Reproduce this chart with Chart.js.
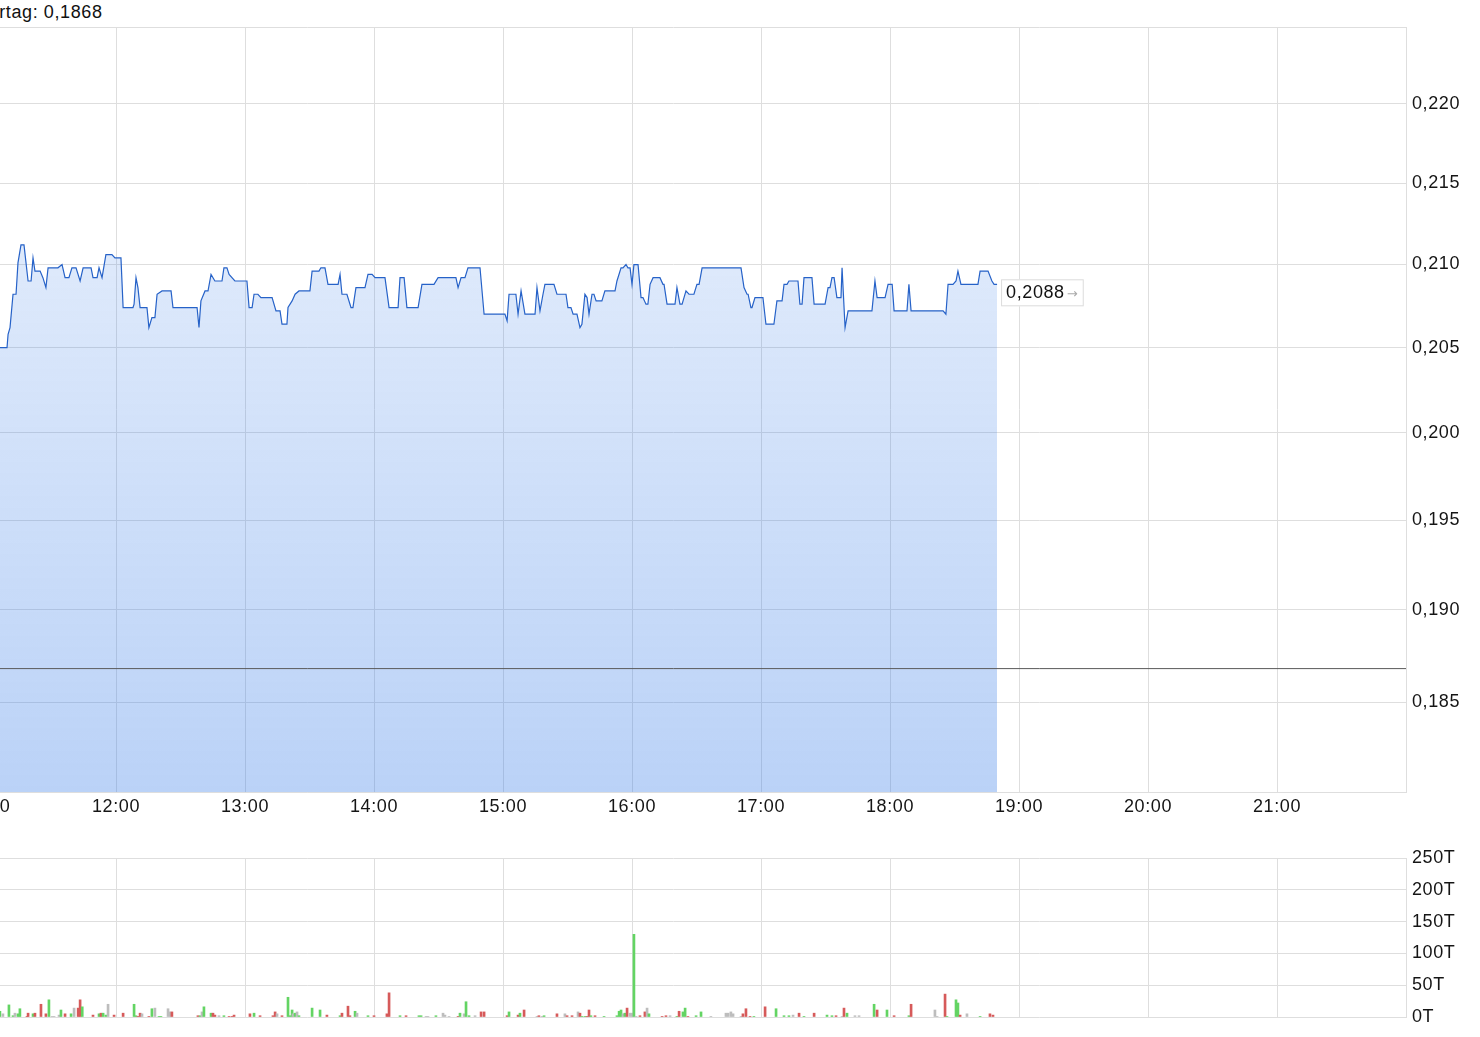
<!DOCTYPE html>
<html>
<head>
<meta charset="utf-8">
<script src="https://cdn.jsdelivr.net/npm/chart.js@4.4.1/dist/chart.umd.min.js"></script>
<style>
  body{margin:0;background:#fff;width:1480px;height:1037px;overflow:hidden;position:relative;font-family:"Liberation Sans",Arial,sans-serif;}
  #vortag{position:absolute;left:-23px;top:2px;font-size:18px;letter-spacing:0.6px;color:#111;white-space:nowrap;}
  #priceBox{position:absolute;left:-59px;top:0;width:1539px;height:831px;}
  #volBox{position:absolute;left:-59px;top:840px;width:1539px;height:197px;}
</style>
</head>
<body>
<div id="vortag">Vortag: 0,1868</div>
<div id="priceBox"><canvas id="priceChart"></canvas></div>
<div id="volBox"><canvas id="volChart"></canvas></div>
<script>
// time = minutes after midnight
const priceTimes = [665.0,669.3,669.8,670.7,672.1,673.5,674.4,675.8,677.2,679.1,680.5,681.4,682.3,684.7,686.0,687.4,688.4,693.0,694.9,696.3,698.1,
  699.5,701.4,703.3,704.7,708.4,709.3,711.2,712.1,713.5,715.3,718.1,719.5,722.3,723.3,727.9,728.4,729.3,730.2,731.2,734.4,
  735.3,736.7,738.1,739.1,741.4,745.6,746.5,757.7,758.6,759.5,761.4,762.8,764.2,766.0,769.3,770.2,771.6,772.6,775.3,780.9,
  781.9,783.3,784.2,786.0,787.4,792.6,794.4,796.3,797.2,799.5,800.0,801.9,803.3,805.1,810.2,811.2,814.4,815.3,817.2,818.6,
  823.3,824.2,825.1,827.4,829.3,830.2,831.6,835.8,837.2,839.1,840.5,845.1,847.0,851.2,852.1,854.0,855.3,860.5,862.3,867.9,
  869.8,878.1,879.1,880.5,882.3,883.7,889.3,891.2,900.9,901.9,902.8,906.0,907.0,908.4,908.8,910.2,914.9,915.8,917.2,918.6,
  919.5,923.7,925.1,929.3,930.2,931.6,932.6,934.4,935.8,936.7,938.1,939.1,940.0,941.4,942.3,943.3,946.0,947.4,952.1,953.0,
  954.9,955.8,957.2,958.1,959.1,960.0,960.9,962.8,964.2,965.1,966.5,967.4,968.4,969.8,973.0,974.4,974.9,976.3,980.0,980.9,
  982.3,983.3,985.1,986.5,988.8,990.2,991.2,992.6,1010.7,1012.1,1013.5,1014.0,1015.3,1015.8,1017.2,1020.9,1022.3,1026.0,1027.4,1029.8,
  1030.7,1032.1,1033.0,1037.2,1038.1,1039.1,1040.0,1043.7,1044.7,1049.8,1051.2,1052.1,1053.0,1054.0,1055.3,1057.2,1057.7,1059.1,1060.5,1071.6,
  1073.0,1074.0,1077.7,1079.1,1081.0,1081.9,1087.9,1088.8,1089.8,1104.7,1106.0,1107.0,1109.3,1110.7,1111.6,1113.0,1120.9,1121.9,1125.6,1127.4,
  1128.4,1129.8];
const priceValues = [0.2050,0.2050,0.2058,0.2062,0.2082,0.2082,0.2101,0.2112,0.2112,0.2090,0.2090,0.2104,0.2096,0.2096,0.2092,0.2086,0.2098,0.2098,0.2100,0.2092,0.2092,
  0.2098,0.2098,0.2090,0.2098,0.2098,0.2092,0.2092,0.2098,0.2092,0.2106,0.2106,0.2104,0.2104,0.2074,0.2074,0.2076,0.2092,0.2086,0.2074,0.2074,
  0.2062,0.2068,0.2068,0.2082,0.2084,0.2084,0.2074,0.2074,0.2062,0.2078,0.2084,0.2084,0.2094,0.2090,0.2090,0.2098,0.2098,0.2094,0.2090,0.2090,
  0.2074,0.2074,0.2082,0.2082,0.2080,0.2080,0.2072,0.2072,0.2064,0.2064,0.2074,0.2078,0.2082,0.2084,0.2084,0.2096,0.2096,0.2098,0.2098,0.2088,
  0.2088,0.2094,0.2082,0.2082,0.2074,0.2074,0.2086,0.2086,0.2094,0.2094,0.2092,0.2092,0.2074,0.2074,0.2092,0.2092,0.2074,0.2074,0.2088,0.2088,
  0.2092,0.2092,0.2086,0.2092,0.2092,0.2098,0.2098,0.2070,0.2070,0.2066,0.2082,0.2082,0.2070,0.2084,0.2084,0.2070,0.2070,0.2086,0.2072,0.2082,
  0.2088,0.2088,0.2082,0.2082,0.2074,0.2074,0.2070,0.2070,0.2062,0.2064,0.2082,0.2080,0.2070,0.2082,0.2082,0.2078,0.2078,0.2084,0.2084,0.2090,
  0.2098,0.2098,0.2100,0.2098,0.2098,0.2088,0.2100,0.2100,0.2080,0.2080,0.2076,0.2076,0.2088,0.2092,0.2092,0.2088,0.2088,0.2076,0.2076,0.2086,
  0.2076,0.2076,0.2084,0.2082,0.2082,0.2088,0.2088,0.2098,0.2098,0.2086,0.2082,0.2082,0.2074,0.2074,0.2080,0.2080,0.2064,0.2064,0.2078,0.2078,
  0.2088,0.2088,0.2090,0.2090,0.2076,0.2076,0.2092,0.2092,0.2076,0.2076,0.2086,0.2086,0.2092,0.2092,0.2080,0.2080,0.2098,0.2062,0.2072,0.2072,
  0.2090,0.2080,0.2080,0.2088,0.2088,0.2072,0.2072,0.2088,0.2072,0.2072,0.2070,0.2088,0.2088,0.2090,0.2096,0.2088,0.2088,0.2096,0.2096,0.2090,
  0.2088,0.2088];
const prevClose = 0.1868;
const priceTicks = [0.185,0.190,0.195,0.200,0.205,0.210,0.215,0.220];
const hourTicks = [660,720,780,840,900,960,1020,1080,1140,1200,1260];

// volume bars (in T), direction: u = up, d = down, n = unchanged
const volTimes = [666.0,667.4,670.2,672.1,673.0,674.4,675.3,678.6,679.1,681.4,682.3,685.1,687.4,688.8,690.2,691.2,693.5,694.4,696.3,699.1,
  700.5,702.4,703.3,704.3,709.3,712.1,713.0,714.0,715.3,716.3,719.1,723.3,728.4,729.3,730.2,731.2,732.1,735.3,736.7,738.1,
  740.0,740.9,744.2,745.1,746.0,758.1,759.1,760.0,760.9,764.2,765.1,766.0,767.9,770.2,772.6,774.0,774.9,782.3,784.2,787.0,
  793.0,794.0,794.9,797.2,800.0,800.9,801.9,802.3,803.3,804.2,805.1,811.2,814.9,818.1,824.2,825.1,827.9,828.8,831.2,832.1,
  837.2,840.0,846.0,847.0,852.1,854.9,860.9,861.9,864.2,865.1,868.8,872.1,873.0,874.9,879.1,880.0,881.9,882.8,884.2,887.0,
  889.8,891.2,901.9,902.8,907.0,907.9,909.8,915.8,916.7,918.1,919.1,925.1,928.8,929.8,932.1,934.9,935.8,936.7,938.1,939.1,
  940.0,940.9,942.8,947.0,953.0,954.0,954.9,955.8,956.7,957.7,959.1,960.0,960.9,961.9,963.7,966.0,967.0,967.9,974.0,975.8,
  977.7,980.9,981.9,983.7,984.7,986.0,989.8,992.1,996.7,1003.7,1004.7,1006.0,1007.0,1010.7,1011.6,1013.0,1014.9,1016.7,1021.9,1027.0,
  1030.7,1033.0,1034.9,1037.7,1040.0,1044.7,1050.7,1053.0,1054.9,1057.7,1058.6,1060.0,1063.7,1065.6,1072.6,1074.0,1078.6,1081.9,1088.8,1089.8,
  1100.9,1101.9,1105.6,1106.5,1110.7,1111.6,1112.6,1115.8,1121.9,1126.5,1127.9];
const volValues = [9,5,19,2,6,5,13,1,6,5,6,20,5,27,1,1,3,11,5,5,
  14,14,27,16,3,5,6,6,3,20,3,6,20,2,1,6,5,1,13,14,
  1,1,13,8,8,2,2,8,16,6,6,3,2,2,1,1,3,5,6,2,
  2,8,5,2,31,2,11,5,6,8,2,14,11,3,2,6,17,2,9,6,
  2,2,5,38,2,2,2,2,1,1,2,6,3,1,1,6,5,24,2,2,
  8,8,2,8,3,6,11,1,2,1,2,5,5,2,2,8,6,1,1,1,
  11,2,2,1,2,9,11,5,6,14,6,6,130,1,2,8,14,5,1,2,
  2,1,9,8,14,1,2,8,1,6,6,8,5,1,5,13,1,1,16,13,
  2,2,3,6,1,6,3,2,2,1,14,6,2,2,20,11,11,2,2,20,
  11,1,36,1,27,22,3,5,1,5,3];
const volDir = ['u','n','u','u','n','u','u','d','d','u','d','d','d','u','n','n','n','u','d','u',
  'n','d','d','u','d','u','d','u','u','n','d','d','u','u','d','d','n','d','u','n',
  'u','u','n','n','d','d','u','n','u','u','d','d','n','u','d','d','d','d','u','d',
  'd','d','n','d','u','u','u','n','u','n','u','u','u','d','u','d','d','d','u','n',
  'u','d','d','d','u','d','u','u','n','n','u','n','n','n','d','u','n','u','u','n',
  'd','d','d','u','d','u','d','n','d','n','u','d','n','d','d','n','d','u','u','d',
  'd','u','d','u','u','u','u','n','u','d','n','n','u','n','d','d','n','u','d','d',
  'n','u','d','u','u','d','u','u','n','n','n','n','n','n','d','d','d','u','d','u',
  'u','u','n','d','u','d','u','u','d','n','d','u','n','n','u','d','u','d','u','d',
  'n','n','d','u','u','u','d','n','u','d','d'];
const volTicks = [0,50,100,150,200,250];

const dirColor = {u: '#63d463', d: '#d65a5a', n: '#bdbdbd'};
const xMin = 638.6, xMax = 1320;
const yMin = 0.18024, yMax = 0.22496;

const fmtHour = v => String(Math.round(v/60)).padStart(2,'0') + ':00';
const fmtNum = (v, d) => v.toFixed(d).replace('.', ',');

Chart.defaults.font.family = '"Liberation Sans", Arial, sans-serif';
Chart.defaults.font.size = 18;
Chart.defaults.color = '#151515';
Chart.defaults.animation = false;

// the original text is a little wider than plain Arial
const spacing = {
  id: 'spacing',
  beforeDraw(chart){ chart.ctx.letterSpacing = '0.6px'; }
};

// white box with the last price next to the end of the line
const lastLabel = {
  id: 'lastLabel',
  afterDatasetsDraw(chart){
    const meta = chart.getDatasetMeta(0);
    const pt = meta.data[meta.data.length-1];
    const ctx = chart.ctx;
    const txt = fmtNum(priceValues[priceValues.length-1], 4);
    ctx.save();
    ctx.font = '18px "Liberation Sans", Arial, sans-serif';
    const w = ctx.measureText(txt).width;
    const x = pt.x + 4, y = pt.y - 5;
    ctx.fillStyle = '#fff';
    ctx.strokeStyle = '#dcdcdc';
    ctx.lineWidth = 1;
    ctx.fillRect(x, y, w + 24, 27);
    ctx.strokeRect(x + 0.5, y + 0.5, w + 23, 26);
    ctx.fillStyle = '#111';
    ctx.textBaseline = 'middle';
    ctx.fillText(txt, x + 5, y + 14);
    ctx.font = '13px "DejaVu Sans", sans-serif';
    ctx.fillStyle = '#aaa';
    ctx.fillText('→', x + w + 7, y + 15);
    ctx.restore();
  }
};

// Price chart
const priceCtx = document.getElementById('priceChart');
new Chart(priceCtx, {
  type: 'line',
  data: {
    datasets: [{
      data: priceTimes.map((t,i) => ({x: t, y: priceValues[i]})),
      borderColor: '#2662c8',
      borderWidth: 1.2,
      pointRadius: 0,
      tension: 0,
      fill: 'start',
      order: 1,
      backgroundColor: (c) => {
        const a = c.chart.chartArea;
        if(!a) return 'rgba(58,126,232,0.2)';
        const g = c.chart.ctx.createLinearGradient(0, a.top, 0, a.bottom);
        g.addColorStop(0, 'rgba(58,126,232,0.09)');
        g.addColorStop(1, 'rgba(58,126,232,0.35)');
        return g;
      }
    }, {
      data: [{x: xMin, y: prevClose}, {x: xMax, y: prevClose}],
      borderColor: '#5a5a5a',
      borderWidth: 1,
      pointRadius: 0,
      fill: false,
      order: 0
    }]
  },
  options: {
    responsive: true,
    maintainAspectRatio: false,
    layout: {padding: {top: 27, left: 0, right: 0, bottom: 0}},
    plugins: {legend: {display: false}, tooltip: {enabled: false}},
    scales: {
      x: {
        type: 'linear',
        min: xMin, max: xMax,
        afterBuildTicks: s => { s.ticks = hourTicks.map(v => ({value: v})); },
        afterFit: s => { s.height = 39; },
        ticks: {autoSkip: false, maxRotation: 0, padding: 4, callback: v => fmtHour(v)},
        grid: {color: '#dedede', drawTicks: false},
        border: {color: '#dedede'}
      },
      y: {
        type: 'logarithmic',
        position: 'right',
        min: yMin, max: yMax,
        afterBuildTicks: s => { s.ticks = [yMin, ...priceTicks, yMax].map(v => ({value: v})); },
        afterFit: s => { s.width = 74; },
        ticks: {
          padding: 6,
          callback: v => priceTicks.includes(v) ? fmtNum(v, 3) : ''
        },
        grid: {color: '#dedede', drawTicks: false},
        border: {color: '#dedede'}
      }
    }
  },
  plugins: [spacing, lastLabel]
});

// Volume chart
const volCtx = document.getElementById('volChart');
new Chart(volCtx, {
  type: 'bar',
  data: {
    datasets: [{
      data: volTimes.map((t,i) => ({x: t, y: volValues[i]})),
      backgroundColor: volDir.map(d => dirColor[d]),
      barThickness: 2
    }]
  },
  options: {
    responsive: true,
    maintainAspectRatio: false,
    layout: {padding: {top: 18, left: 0, right: 0, bottom: 0}},
    plugins: {legend: {display: false}, tooltip: {enabled: false}},
    scales: {
      x: {
        type: 'linear',
        min: xMin, max: xMax,
        offset: false,
        afterBuildTicks: s => { s.ticks = hourTicks.map(v => ({value: v})); },
        afterFit: s => { s.height = 20; },
        ticks: {display: false},
        grid: {color: '#dedede', drawTicks: false, offset: false},
        border: {display: false}
      },
      y: {
        position: 'right',
        min: 0, max: 250,
        afterBuildTicks: s => { s.ticks = volTicks.map(v => ({value: v})); },
        afterFit: s => { s.width = 74; },
        ticks: {padding: 6, callback: v => v + 'T'},
        grid: {color: '#dedede', drawTicks: false},
        border: {color: '#dedede'}
      }
    }
  },
  plugins: [spacing]
});
</script>
</body>
</html>
